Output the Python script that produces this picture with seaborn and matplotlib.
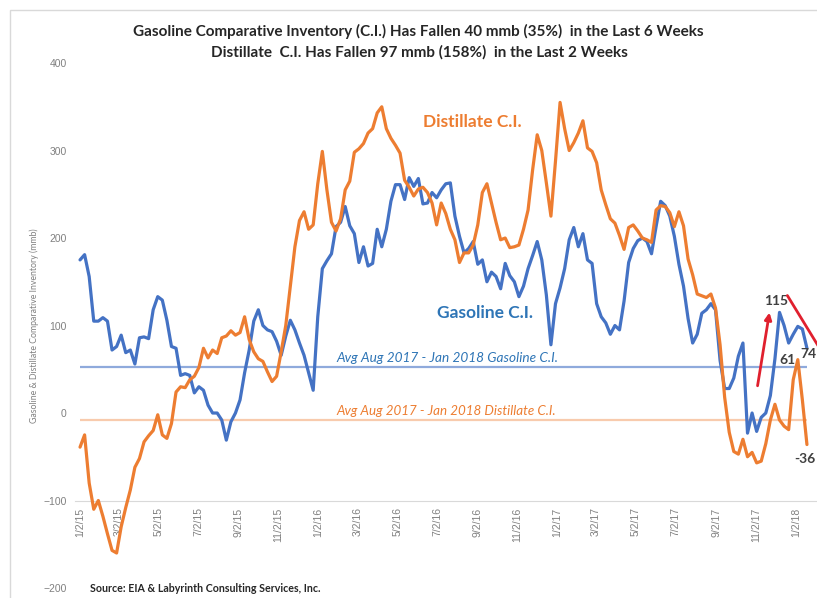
import pandas as pd
import numpy as np
import matplotlib
matplotlib.use("Agg")
import matplotlib.pyplot as plt
import matplotlib.dates as mdates
from matplotlib.ticker import FuncFormatter
from matplotlib.patches import Rectangle
import seaborn as sns

# Weekly comparative inventory (mmb), first week 1/2/15
start_date = "2015-01-02"
gasoline_ci = [175, 181, 156, 105, 105, 109, 105, 72, 76, 89,
               69, 72, 56, 86, 87, 85, 118, 133, 129, 106,
               76, 74, 43, 45, 43, 23, 30, 26, 9, 0,
               0, -8, -31, -10, 0, 15, 46, 72, 105, 118,
               100, 95, 93, 82, 66, 88, 106, 95, 80, 66,
               46, 26, 110, 165, 174, 182, 213, 218, 236, 214,
               205, 172, 190, 168, 171, 210, 190, 210, 242, 261,
               261, 244, 269, 259, 268, 239, 240, 252, 246, 255,
               262, 263, 225, 202, 183, 188, 196, 170, 175, 150,
               161, 156, 142, 171, 157, 150, 133, 145, 165, 180,
               196, 175, 135, 78, 125, 143, 165, 198, 212, 190,
               205, 175, 171, 125, 110, 103, 90, 100, 95, 128,
               172, 188, 197, 200, 196, 182, 213, 242, 237, 225,
               202, 170, 145, 108, 80, 90, 114, 118, 125, 118,
               60, 28, 28, 40, 65, 80, -23, 0, -21, -5,
               0, 20, 62, 115, 100, 80, 90, 99, 96, 74]
distillate_ci = [-39, -25, -80, -110, -100, -118, -138, -157, -160, -130,
                 -108, -88, -62, -52, -33, -26, -20, -2, -25, -29,
                 -12, 24, 30, 29, 38, 42, 52, 74, 63, 72,
                 68, 86, 88, 94, 89, 92, 110, 84, 70, 62,
                 59, 47, 36, 42, 70, 100, 145, 190, 220, 230,
                 210, 215, 262, 299, 255, 218, 208, 222, 255, 265,
                 298, 302, 308, 320, 325, 343, 350, 325, 314, 306,
                 297, 266, 258, 248, 256, 258, 252, 240, 215, 240,
                 228, 210, 198, 172, 183, 183, 192, 215, 252, 262,
                 240, 218, 198, 200, 189, 190, 192, 210, 232, 278,
                 318, 300, 263, 225, 288, 355, 325, 300, 309, 320,
                 334, 303, 299, 286, 255, 238, 222, 217, 203, 187,
                 212, 215, 208, 200, 198, 195, 232, 237, 236, 229,
                 213, 230, 214, 176, 158, 136, 134, 132, 136, 120,
                 78, 18, -22, -44, -47, -30, -50, -45, -57, -55,
                 -35, -8, 10, -8, -15, -19, 38, 61, 15, -36]
avg_gasoline = 53
avg_distillate = -8

BLUE = "#4472C4"
ORANGE = "#ED7D31"
GRAY = "#808080"

dates = pd.date_range(start_date, periods=len(gasoline_ci), freq="7D")
df = pd.DataFrame({
    "Date": list(dates) * 2,
    "Series": ["Gasoline C.I."] * len(dates) + ["Distillate C.I."] * len(dates),
    "Value": gasoline_ci + distillate_ci,
})

sns.set_style("white")
plt.rcParams["font.family"] = ["Lato", "DejaVu Sans"]

fig = plt.figure(figsize=(8.17, 5.98), dpi=100)
ax = fig.add_axes([0.0918, 0.0167, 0.9082, 0.8779])

# light frame around chart area
fig.patches.append(Rectangle((10 / 817, -0.05), 1.1, 1 - 10 / 598 + 0.05,
                             transform=fig.transFigure, fill=False,
                             edgecolor="#d9d9d9", lw=1))

ax.hlines(avg_gasoline, dates[0], dates[-1], color="#8FAADC", lw=1.6, zorder=1)
ax.hlines(avg_distillate, dates[0], dates[-1], color="#F8CBAD", lw=1.6, zorder=1)

sns.lineplot(data=df, x="Date", y="Value", hue="Series",
             palette={"Gasoline C.I.": BLUE, "Distillate C.I.": ORANGE},
             lw=2.3, legend=False, ax=ax, zorder=3)

t0 = dates[0]
wk = pd.Timedelta(days=7)
ax.set_xlim(t0 - 1.1 * wk, t0 + 161.2 * wk)
ax.set_ylim(-200, 400)
ax.set_yticks(range(-200, 401, 100))

ax.xaxis.set_major_locator(mdates.MonthLocator(bymonth=range(1, 13, 2), bymonthday=2))
ax.xaxis.set_major_formatter(FuncFormatter(
    lambda x, pos: "{d.month}/{d.day}/{y:02d}".format(d=mdates.num2date(x), y=mdates.num2date(x).year % 100)))
for side in ["top", "right", "left"]:
    ax.spines[side].set_visible(False)
ax.spines["bottom"].set_position(("data", -100))
ax.spines["bottom"].set_color("#d9d9d9")
ax.tick_params(axis="x", length=0, pad=5, labelsize=7.5, labelcolor=GRAY, labelrotation=90)
ax.tick_params(axis="y", length=0, pad=6, labelsize=7.5, labelcolor=GRAY)
for lab in ax.get_xticklabels() + ax.get_yticklabels():
    lab.set_family(["Liberation Sans", "DejaVu Sans"])
ax.set_xlabel("")
ax.set_ylabel("Gasoline & Distillate Comparative Inventory (mmb)", fontsize=6.3, color=GRAY, labelpad=3)
ax.grid(False)

fig.text(0.512, 0.947, "Gasoline Comparative Inventory (C.I.) Has Fallen 40 mmb (35%)  in the Last 6 Weeks",
         ha="center", va="center", fontsize=11, fontweight="bold", color="#262626")
fig.text(0.513, 0.913, "Distillate  C.I. Has Fallen 97 mmb (158%)  in the Last 2 Weeks",
         ha="center", va="center", fontsize=11, fontweight="bold", color="#262626")

def wpos(w):
    return t0 + w * wk

ax.text(wpos(85.7), 333, "Distillate C.I.", color=ORANGE, fontsize=12.5, fontweight="bold", ha="center", va="center")
ax.text(wpos(88.6), 114, "Gasoline C.I.", color="#2E75B6", fontsize=12.5, fontweight="bold", ha="center", va="center")
ax.text(wpos(56.1), 63, "Avg Aug 2017 - Jan 2018 Gasoline C.I.", color="#2E75B6", fontsize=9.8,
        style="italic", ha="left", va="center")
ax.text(wpos(56.1), 2, "Avg Aug 2017 - Jan 2018 Distillate C.I.", color=ORANGE, fontsize=9.6,
        style="italic", ha="left", va="center")

ax.text(wpos(152.2), 128, "115", color="#404040", fontsize=10, fontweight="bold", ha="center", va="center")
ax.text(wpos(154.8), 61, "61", color="#404040", fontsize=10, fontweight="bold", ha="center", va="center")
ax.text(wpos(157.6), 68, "74", color="#404040", fontsize=10, fontweight="bold", ha="left", va="center")
ax.text(wpos(156.3), -53, "-36", color="#404040", fontsize=10, fontweight="bold", ha="left", va="center")

ax.annotate("", xy=(wpos(150.9), 118), xytext=(wpos(148.1), 28),
            arrowprops=dict(arrowstyle="-|>", color="#E0202E", lw=2, mutation_scale=10))
ax.annotate("", xy=(wpos(164), 55), xytext=(wpos(154.4), 137),
            arrowprops=dict(arrowstyle="-|>", color="#E0202E", lw=2, mutation_scale=10),
            annotation_clip=False)

fig.text(90 / 817, 1 - 588 / 598, "Source: EIA & Labyrinth Consulting Services, Inc.",
         ha="left", va="center", fontsize=7.7, fontweight="bold", color="#262626")

fig.savefig("out.png", dpi=100, facecolor="white")
